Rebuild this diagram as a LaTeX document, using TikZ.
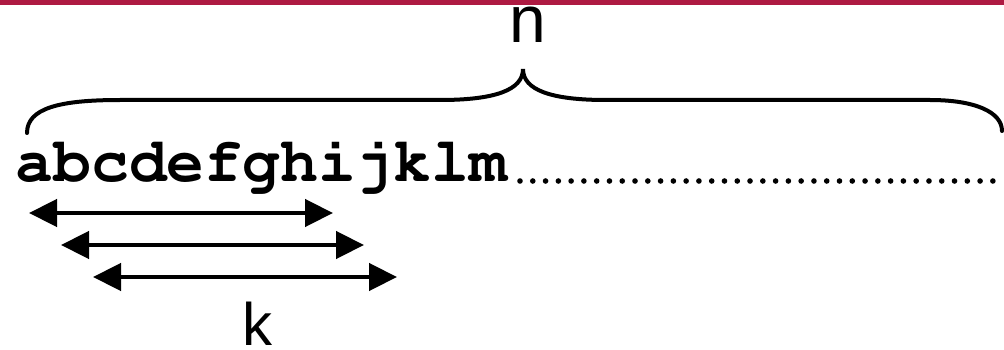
\documentclass[tikz,border=0pt]{standalone}
\usepackage[T1]{fontenc}
\usepackage{fontspec}
\setmainfont{Liberation Sans}
\newcommand{\seqfont}{\fontencoding{T1}\fontfamily{pcr}\fontseries{b}\selectfont}
\usetikzlibrary{arrows.meta}
\definecolor{barred}{RGB}{174,26,66}
\tikzset{
  brace/.style={line width=4pt, line cap=round},
  karrow/.style={line width=4.5pt, {Triangle[length=28pt,width=27pt]}-{Triangle[length=28pt,width=27pt]}},
  dot/.style={fill=black, draw=none},
  lbl/.style={inner sep=0pt, anchor=base}
}
\begin{document}
\begin{tikzpicture}[x=1pt,y=-1pt]
\useasboundingbox (0,0) rectangle (1004,350);
\fill[barred] (0,0) rectangle (1004,5);
% label n
\node[lbl, font=\fontsize{66}{66}\selectfont] (n) at (528,43) {n};
% brace
\coordinate (bl) at (27,133);
\coordinate (bm) at (523,69);
\coordinate (br) at (1002,131);
\draw[brace] (bl) .. controls (27,108) and (60,100) .. (120,100) -- (440,100)
  .. controls (495,100) and (523,90) .. (bm)
  .. controls (523,90) and (551,100) .. (606,100) -- (930,100)
  .. controls (975,100) and (1002,112) .. (br);
% sequence
\node[inner sep=0pt, anchor=base west, font={\fontsize{63}{63}\seqfont}] (seq) at (15.5,181) {abcdefghijklm};
\foreach \i in {0,...,37} {
  \fill[dot] (520+12.78*\i,181) circle (2.8);
}
% arrows
\coordinate (a1l) at (29,213);  \coordinate (a1r) at (333,213);
\coordinate (a2l) at (61,245);  \coordinate (a2r) at (364,245);
\coordinate (a3l) at (93,277);  \coordinate (a3r) at (397,277);
\draw[karrow] (a1l) -- (a1r);
\draw[karrow] (a2l) -- (a2r);
\draw[karrow] (a3l) -- (a3r);
% label k
\node[lbl, font=\fontsize{60}{60}\selectfont] (k) at (257,345) {k};
\end{tikzpicture}
\end{document}
